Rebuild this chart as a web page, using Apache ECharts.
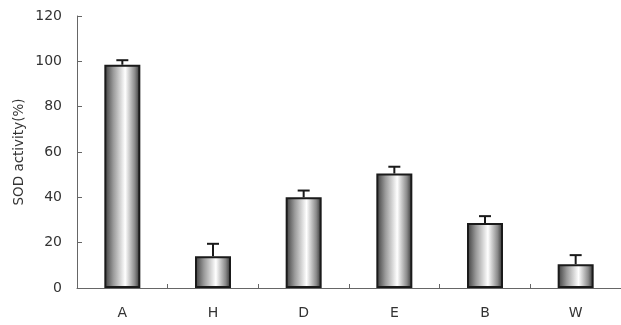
<!DOCTYPE html>
<html><head><meta charset="utf-8">
<script src="https://cdn.jsdelivr.net/npm/echarts@6/dist/echarts.min.js"></script>
<style>html,body{margin:0;padding:0;background:#fff}#c{width:621px;height:325px}</style>
</head><body><div id="c"></div>
<script>
var categories = ['A', 'H', 'D', 'E', 'B', 'W'];
var values = [98.5, 14, 40, 50.5, 28.7, 10.5];
var errors = [2, 5.5, 3, 3, 3, 4];
var yTicks = [0, 20, 40, 60, 80, 100, 120];

var chart = echarts.init(document.getElementById('c'), null, {renderer: 'canvas'});
var barGrad = new echarts.graphic.LinearGradient(0, 0, 1, 0, [
  {offset: 0, color: '#3a3a3a'},
  {offset: 0.25, color: '#9a9a9a'},
  {offset: 0.58, color: '#ffffff'},
  {offset: 0.85, color: '#8a8a8a'},
  {offset: 1, color: '#2a2a2a'}
]);
var font = 'DejaVu Sans, sans-serif';
chart.setOption({
  animation: false,
  backgroundColor: '#fff',
  grid: {left: 77, right: 0, top: 16, bottom: 37, containLabel: false, outerBoundsMode: 'none'},
  xAxis: {
    type: 'category', data: categories,
    axisLine: {lineStyle: {color: '#666', width: 1}},
    axisTick: {show: true, inside: true, length: 4, lineStyle: {color: '#666'}},
    axisLabel: {margin: 18, color: '#333', fontSize: 14, fontFamily: font},
    splitLine: {show: false}
  },
  yAxis: {
    type: 'value', min: yTicks[0], max: yTicks[yTicks.length - 1], interval: 20,
    name: 'SOD activity(%)', nameLocation: 'middle', nameGap: 51, nameRotate: 90,
    nameMoveOverlap: false,
    nameTextStyle: {color: '#333', fontSize: 13.5, fontFamily: font},
    axisLine: {show: true, lineStyle: {color: '#666', width: 1}},
    axisTick: {show: true, inside: true, length: 5, lineStyle: {color: '#666'}},
    axisLabel: {margin: 15, color: '#333', fontSize: 14, fontFamily: font},
    splitLine: {show: false}
  },
  series: [{
    type: 'bar', data: values, barWidth: 36,
    itemStyle: {color: barGrad, borderColor: '#1a1a1a', borderWidth: 2}
  }, {
    type: 'custom', z: 1,
    data: values.map(function (v, i) { return [i, v, v + errors[i]]; }),
    renderItem: function (params, api) {
      var base = api.coord([api.value(0), api.value(1)]);
      var top = api.coord([api.value(0), api.value(2)]);
      var hw = 6;
      return {
        type: 'group',
        children: [
          {type: 'line', shape: {x1: base[0], y1: base[1], x2: top[0], y2: top[1]}, style: {stroke: '#1a1a1a', lineWidth: 2}},
          {type: 'line', shape: {x1: top[0] - hw, y1: top[1], x2: top[0] + hw, y2: top[1]}, style: {stroke: '#1a1a1a', lineWidth: 2}}
        ]
      };
    }
  }]
});
</script></body></html>
